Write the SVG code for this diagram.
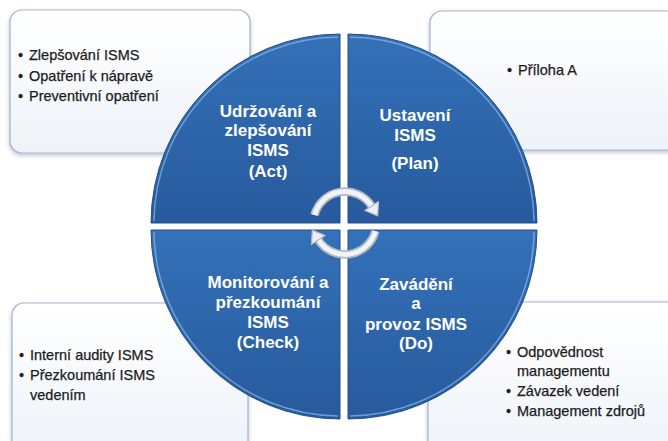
<svg xmlns="http://www.w3.org/2000/svg" width="668" height="441" viewBox="0 0 668 441">
<defs>
<linearGradient id="qg" x1="0" y1="0" x2="0" y2="1">
<stop offset="0" stop-color="#3471b8"/>
<stop offset="1" stop-color="#275a9d"/>
</linearGradient>
<linearGradient id="bg" x1="0" y1="0" x2="0" y2="1">
<stop offset="0" stop-color="#ffffff"/>
<stop offset="1" stop-color="#eef3f9"/>
</linearGradient>
<filter id="sh" x="-10%" y="-10%" width="120%" height="130%">
<feDropShadow dx="0" dy="2" stdDeviation="2" flood-color="#6d7f96" flood-opacity="0.45"/>
</filter>
</defs>
<style>
.box{fill:url(#bg);stroke:#a3b5cb;stroke-width:1.2;filter:url(#sh)}
.bt{font-family:"Liberation Sans",Arial,sans-serif;font-size:14.5px;fill:#1c1c1c;stroke:#1c1c1c;stroke-width:0.25}
.q{fill:url(#qg);stroke:#24508c;stroke-width:1}
.hl{fill:none;stroke:#8cb8e6;stroke-width:1.5;opacity:0.7}
.qt{font-family:"Liberation Sans",Arial,sans-serif;font-size:17px;font-weight:bold;fill:#ffffff;text-anchor:middle}
.arc-o{fill:none;stroke:#aeb7c4;stroke-width:8.5}
.arc-i{fill:none;stroke:#f1f3f6;stroke-width:5}
.ah{fill:#eceff3;stroke:#aeb7c4;stroke-width:1.2;stroke-linejoin:round}
</style>
<rect width="668" height="441" fill="#ffffff"/>

<g id="box-act">
<rect class="box" x="10" y="10" width="240" height="143" rx="12"/>
<text class="bt" x="18" y="60">•</text><text class="bt" x="29" y="60">Zlepšování ISMS</text>
<text class="bt" x="18" y="81">•</text><text class="bt" x="29" y="81">Opatření k nápravě</text>
<text class="bt" x="18" y="101">•</text><text class="bt" x="29" y="101">Preventivní opatření</text>
</g>
<g id="box-plan">
<rect class="box" x="430" y="11" width="260" height="139" rx="12"/>
<text class="bt" x="507" y="75">•</text><text class="bt" x="518" y="75">Příloha A</text>
</g>
<g id="box-check">
<rect class="box" x="12" y="303" width="236" height="150" rx="12"/>
<text class="bt" x="19" y="360">•</text><text class="bt" x="30" y="360">Interní audity ISMS</text>
<text class="bt" x="19" y="380">•</text><text class="bt" x="30" y="380">Přezkoumání ISMS</text>
<text class="bt" x="30" y="400">vedením</text>
</g>
<g id="box-do">
<rect class="box" x="428" y="302" width="262" height="160" rx="12"/>
<text class="bt" x="506" y="357">•</text><text class="bt" x="517" y="357">Odpovědnost</text>
<text class="bt" x="517" y="376">managementu</text>
<text class="bt" x="506" y="396">•</text><text class="bt" x="517" y="396">Závazek vedení</text>
<text class="bt" x="506" y="416">•</text><text class="bt" x="517" y="416">Management zdrojů</text>
</g>

<g id="q-act">
<path class="q" d="M340,223 L151,223 A189,189 0 0 1 340,34 Z"/>
<path class="hl" d="M154,221 A186,186 0 0 1 338,37"/>
<text class="qt" x="268" y="117">Udržování a</text>
<text class="qt" x="268" y="136">zlepšování</text>
<text class="qt" x="268" y="156">ISMS</text>
<text class="qt" x="268" y="177">(Act)</text>
</g>
<g id="q-plan">
<path class="q" d="M348,223 L348,34 A189,189 0 0 1 537,223 Z"/>
<path class="hl" d="M350,37 A186,186 0 0 1 534,221"/>
<text class="qt" x="415" y="121">Ustavení</text>
<text class="qt" x="415" y="141">ISMS</text>
<text class="qt" x="415" y="169">(Plan)</text>
</g>
<g id="q-do">
<path class="q" d="M348,230 L537,230 A189,189 0 0 1 348,419 Z"/>
<path class="hl" d="M534,232 A186,186 0 0 1 350,416"/>
<text class="qt" x="416" y="290">Zavádění</text>
<text class="qt" x="416" y="309">a</text>
<text class="qt" x="416" y="330">provoz ISMS</text>
<text class="qt" x="416" y="349">(Do)</text>
</g>
<g id="q-check">
<path class="q" d="M340,230 L340,419 A189,189 0 0 1 151,230 Z"/>
<path class="hl" d="M338,416 A186,186 0 0 1 154,232"/>
<text class="qt" x="268" y="288">Monitorování a</text>
<text class="qt" x="268" y="308">přezkoumání</text>
<text class="qt" x="268" y="328">ISMS</text>
<text class="qt" x="268" y="348">(Check)</text>
</g>

<g id="connectors">
<path class="arc-o" d="M314.5,215 A31.5,31.5 0 0 1 371.7,206.3"/>
<path class="arc-i" d="M314.5,215 A31.5,31.5 0 0 1 371.7,206.3"/>
<polygon class="ah" points="378.6,201.5 364.8,210.5 377.7,215.9"/>
<path class="arc-o" d="M375.4,231.2 A31.5,31.5 0 0 1 318.3,239.7"/>
<path class="arc-i" d="M375.4,231.2 A31.5,31.5 0 0 1 318.3,239.7"/>
<polygon class="ah" points="311.4,244.5 325.2,235.5 312.3,230.1"/>
</g>
</svg>
